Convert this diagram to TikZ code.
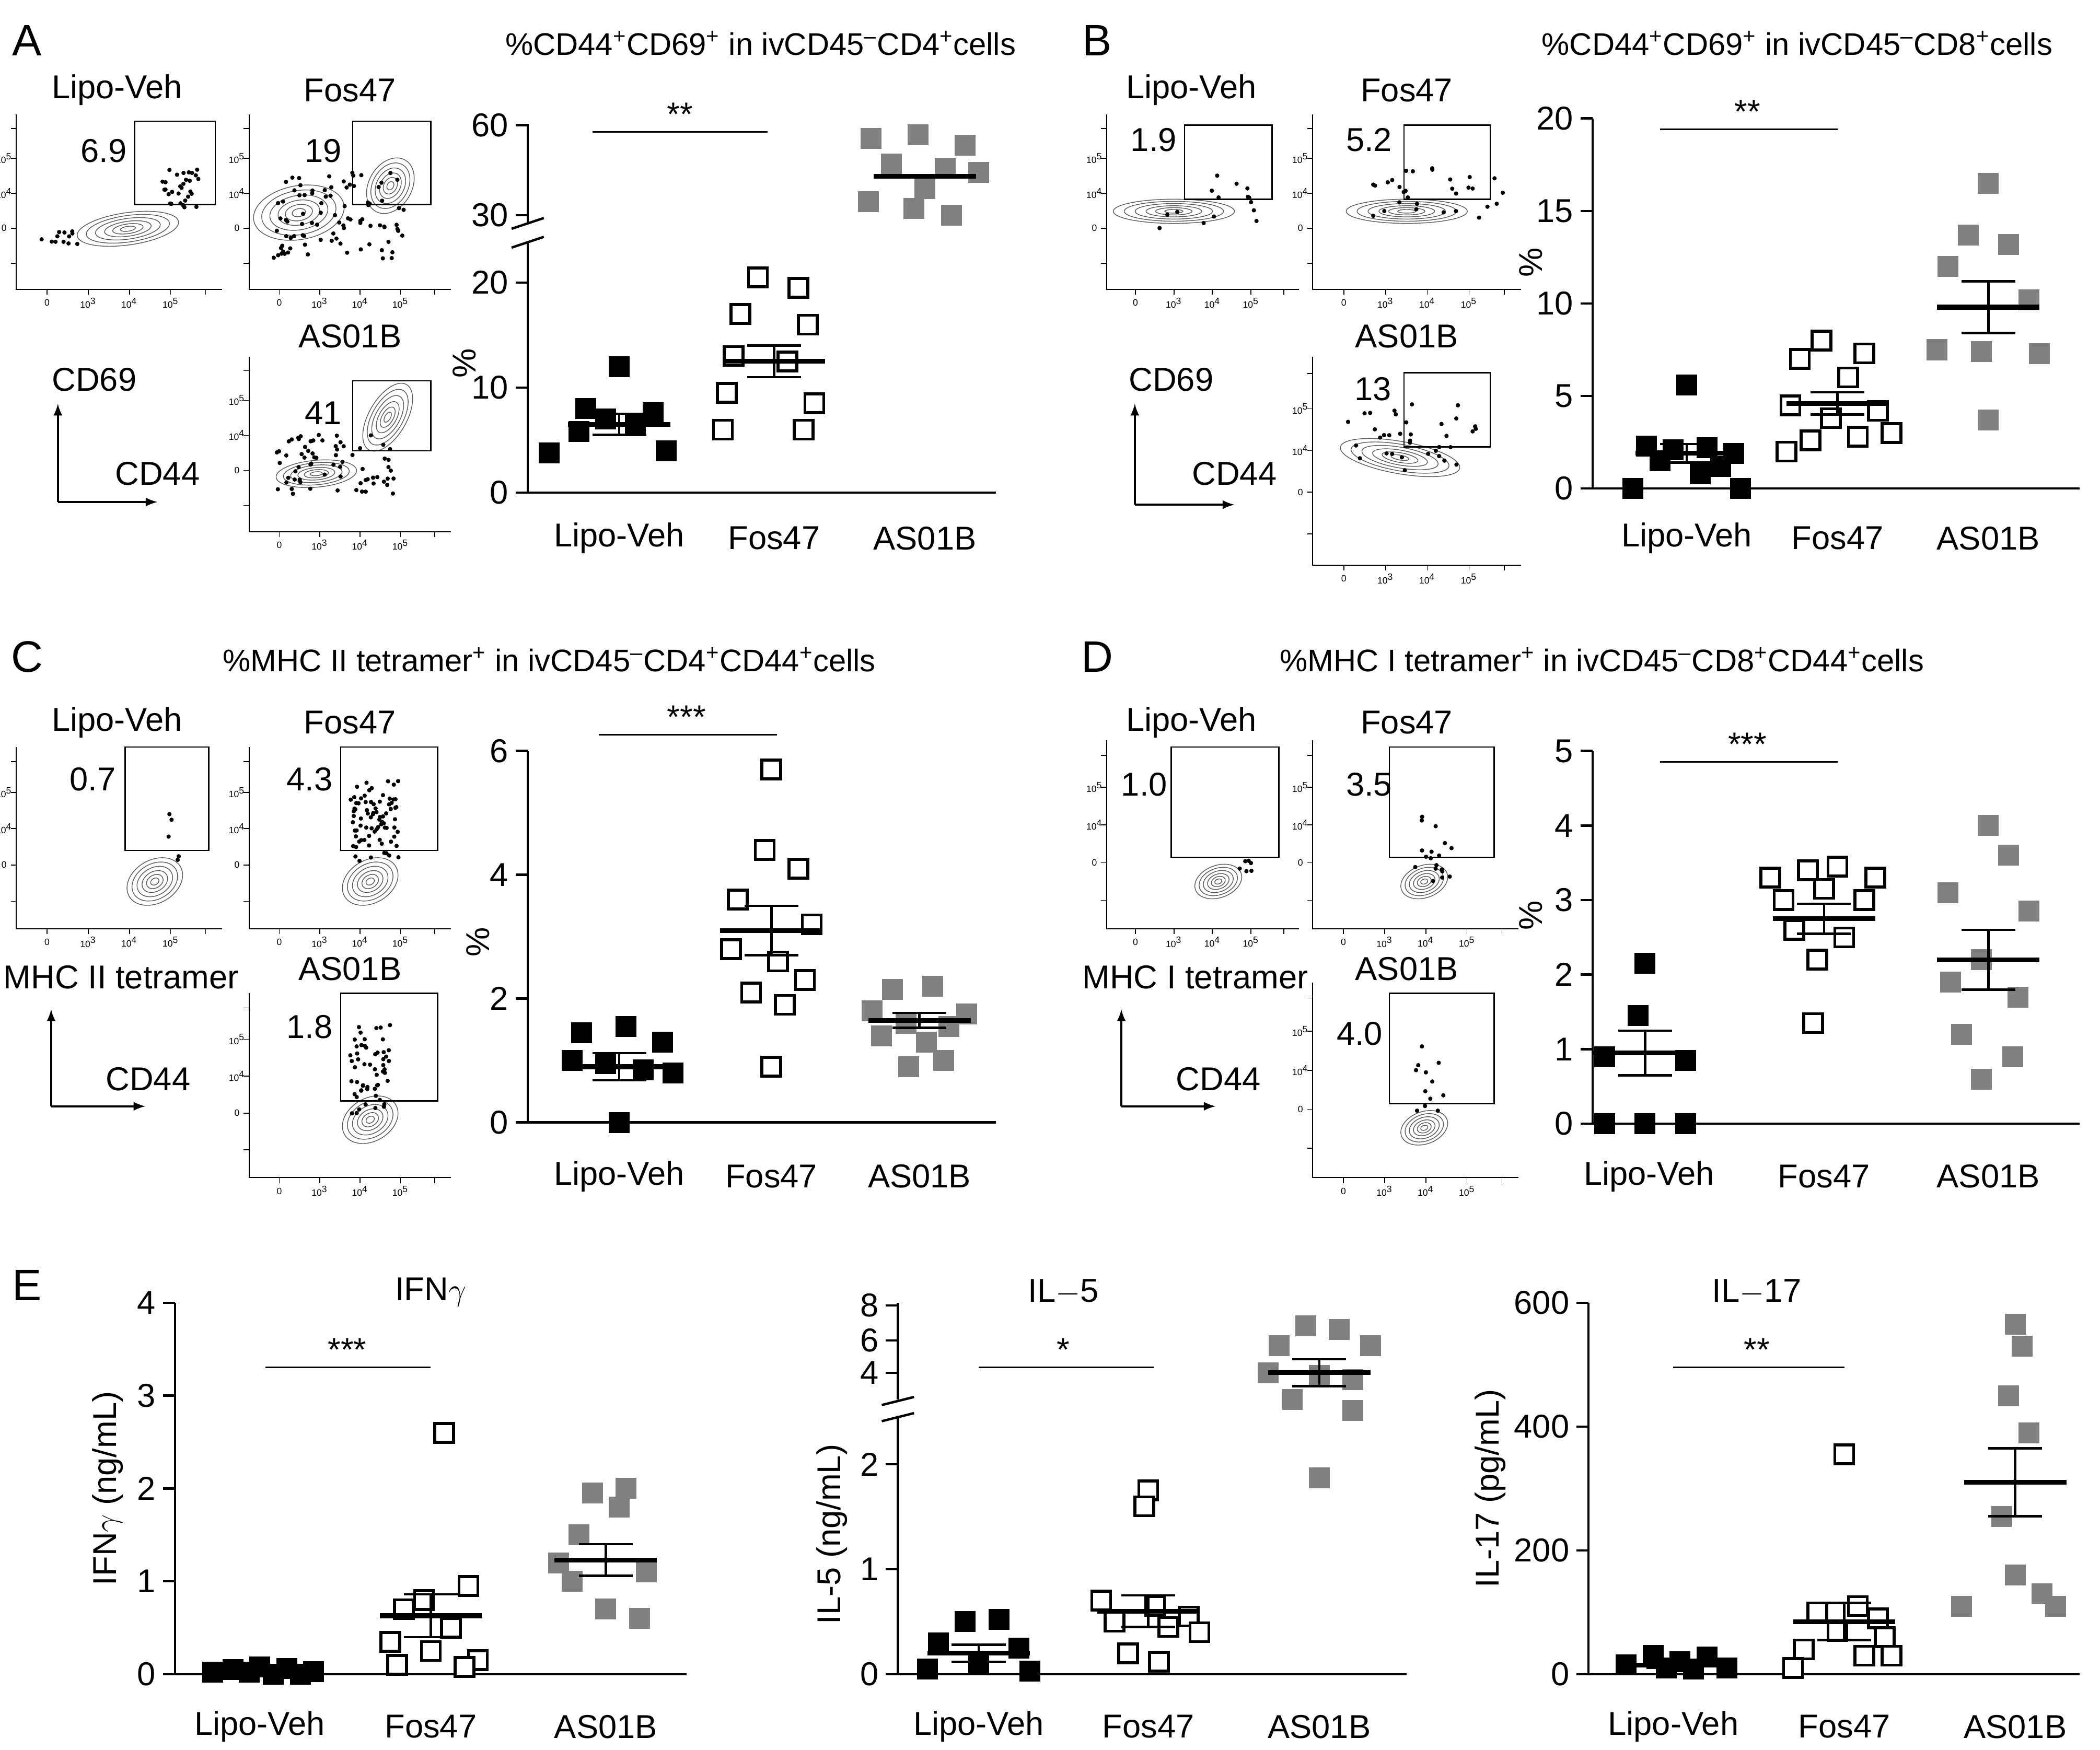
\documentclass[tikz,border=0pt]{standalone}
\usepackage{fontspec}
\setmainfont{Liberation Sans}
\begin{document}
\begin{tikzpicture}[x=0.02576cm,y=-0.02576cm,
  lbl/.style={font=\fontsize{18}{20}\selectfont, inner sep=0},
  ttl/.style={font=\fontsize{17}{20}\selectfont, inner sep=0},
  panel/.style={font=\fontsize{24}{26}\selectfont, inner sep=0},
  tiny/.style={font=\fontsize{5}{6}\selectfont, inner sep=0},
  fsq/.style={rectangle, fill=black, minimum size=0.4cm, inner sep=0},
  osq/.style={rectangle, draw=black, fill=white, line width=1.6pt, minimum size=0.36cm, inner sep=0},
  gsq/.style={rectangle, fill=gray, minimum size=0.4cm, inner sep=0},
  ax/.style={line width=1.3pt},
  gate/.style={line width=0.7pt},
  cont/.style={gray!70!black, line width=0.4pt}]
\useasboundingbox (0,0) rectangle (1560,1300);
\pgfmathsetseed{7}
\newcommand\flowplot[4]{%
  \draw[line width=0.6pt] (#1,#2) -- (#1,#4) -- (#3,#4);
  \foreach \f in {0.15,0.35,0.55,0.75,0.92}{\draw[line width=0.5pt] ({#1+\f*(#3-#1)},#4) -- ++(0,4);
     \draw[line width=0.5pt] (#1,{#4-\f*(#4-#2)}) -- ++(-4,0);}
  \node[tiny] at ({#1+0.15*(#3-#1)},{#4+10}) {0};
  \node[tiny] at ({#1+0.35*(#3-#1)},{#4+10}) {10\textsuperscript{3}};
  \node[tiny] at ({#1+0.55*(#3-#1)},{#4+10}) {10\textsuperscript{4}};
  \node[tiny] at ({#1+0.75*(#3-#1)},{#4+10}) {10\textsuperscript{5}};
  \node[tiny] at ({#1-9},{#4-0.35*(#4-#2)}) {0};
  \node[tiny] at ({#1-9},{#4-0.55*(#4-#2)}) {10\textsuperscript{4}};
  \node[tiny] at ({#1-9},{#4-0.75*(#4-#2)}) {10\textsuperscript{5}};}
\newcommand\blob[5]{%
  \foreach \s in {1,0.82,0.64,0.46,0.3,0.15}{\draw[cont, rotate around={#5:(#1,#2)}] (#1,#2) ellipse [x radius={#3*\s}, y radius={#4*\s}];}}
\newcommand\scat[5]{%
  \foreach \i in {1,...,#5}{\fill ({#1+rand*#3},{#2+rand*#4}) circle (1.6);}}
\newcommand\grp[5]{\foreach \dx/\v in {#5} \node[#1] at ({#2+\dx},{#3-#4*\v}) {};}
\newcommand\msem[5]{% cx y0 k mean sem
  \draw[line width=1.3pt] ({#1},{#2-#3*(#4+#5)}) -- ({#1},{#2-#3*(#4-#5)});
  \draw[line width=1.3pt] ({#1-20},{#2-#3*(#4+#5)}) -- ({#1+20},{#2-#3*(#4+#5)});
  \draw[line width=1.3pt] ({#1-20},{#2-#3*(#4-#5)}) -- ({#1+20},{#2-#3*(#4-#5)});
  \draw[line width=2.6pt] ({#1-38},{#2-#3*#4}) -- ({#1+38},{#2-#3*#4});}
\newcommand\yticks[4]{% x y0 k list
  \foreach \v in {#4}{\draw[ax] (#1,{#2-#3*\v}) -- ++(-9,0); \node[lbl,anchor=east] at ({#1-14},{#2-#3*\v}) {\v};}}
\newcommand\cats[4]{% y, x1,x2,x3
  \node[lbl] at (#2,#1) {Lipo-Veh}; \node[lbl] at (#3,#1) {Fos47}; \node[lbl] at (#4,#1) {AS01B};}

% ================= Panel A
\node[panel] (pA) at (20,30) {A};
\node[ttl] (tA) at (565,32) {\%CD44\textsuperscript{+}CD69\textsuperscript{+} in ivCD45\textsuperscript{--}CD4\textsuperscript{+}cells};
\node[lbl] at (87,67) {Lipo-Veh}; \node[lbl] at (260,67) {Fos47}; \node[lbl] at (260,250) {AS01B};
\flowplot{12}{85}{165}{215}
\blob{95}{170}{38}{12}{8}\scat{135}{140}{15}{14}{30}\scat{45}{176}{15}{6}{12}
\draw[gate] (100,90) rectangle (160,152); \node[lbl] at (77,112) {6.9};
\flowplot{185}{85}{335}{215}
\blob{222}{158}{34}{20}{10}\blob{290}{138}{22}{16}{60}\scat{250}{160}{50}{32}{90}
\draw[gate] (262,90) rectangle (320,152); \node[lbl] at (240,112) {19};
\flowplot{185}{265}{335}{395}
\blob{288}{310}{28}{14}{60}\blob{235}{352}{30}{10}{5}\scat{250}{345}{45}{22}{70}
\draw[gate] (262,283) rectangle (320,335); \node[lbl] at (240,307) {41};
\coordinate (aO) at (43,373); \coordinate (aU) at (43,300); \coordinate (aR) at (117,373);
\draw[line width=1.2pt,-latex] (aO) -- (aU); \draw[line width=1.2pt,-latex] (aO) -- (aR);
\node[lbl] at (70,282) {CD69}; \node[lbl] at (117,352) {CD44};
% scatter A
\draw[ax] (392,92) -- (392,166); \draw[ax] (392,180) -- (392,366) -- (740,366);
\draw[ax] (380,170) -- (404,162); \draw[ax] (380,184) -- (404,176);
\yticks{392}{366}{7.8}{0,10,20}
\draw[ax] (392,160) -- ++(-9,0); \node[lbl,anchor=east] at (378,160) {30};
\draw[ax] (392,93) -- ++(-9,0); \node[lbl,anchor=east] at (378,93) {60};
\node[lbl,rotate=90] at (345,270) {\%};
\cats{400}{460}{575}{687}
\draw[line width=0.8pt] (440,98) -- (570,98); \node[lbl] at (505,85) {**};
\grp{fsq}{460}{366}{7.8}{0/12,-25/8,25/7.6,-10/7,12/6.5,-30/5.8,35/4,-52/3.8}
\msem{460}{366}{7.8}{6.5}{1}
\grp{osq}{575}{366}{7.8}{-12/20.5,18/19.5,-25/17,25/16,-30/13,10/12.5,-35/9.5,30/8.5,-38/6,22/6}
\msem{575}{366}{7.8}{12.5}{1.5}
\foreach \dx/\py in {-40/103,-5/100,30/108,-25/122,15/125,40/128,-42/150,-8/155,20/160,0/140}{\node[gsq] at (687+\dx,\py) {};}
\draw[line width=2.6pt] (649,131) -- (725,131);

% ================= Panel B
\node[panel] (pB) at (815,30) {B};
\node[ttl] (tB) at (1335,32) {\%CD44\textsuperscript{+}CD69\textsuperscript{+} in ivCD45\textsuperscript{--}CD8\textsuperscript{+}cells};
\node[lbl] at (885,67) {Lipo-Veh}; \node[lbl] at (1045,67) {Fos47}; \node[lbl] at (1045,250) {AS01B};
\flowplot{822}{85}{965}{215}
\blob{872}{157}{45}{9}{0}\scat{900}{150}{45}{20}{15}
\draw[gate] (880,93) rectangle (945,148); \node[lbl] at (857,104) {1.9};
\flowplot{975}{85}{1130}{215}
\blob{1045}{157}{45}{9}{0}\scat{1070}{145}{50}{20}{30}
\draw[gate] (1043,93) rectangle (1107,148); \node[lbl] at (1017,104) {5.2};
\flowplot{975}{265}{1130}{420}
\blob{1040}{340}{45}{12}{-10}\scat{1050}{325}{50}{25}{35}
\draw[gate] (1043,277) rectangle (1107,332); \node[lbl] at (1020,289) {13};
\coordinate (bO) at (843,375); \coordinate (bU) at (843,300); \coordinate (bR) at (917,375);
\draw[line width=1.2pt,-latex] (bO) -- (bU); \draw[line width=1.2pt,-latex] (bO) -- (bR);
\node[lbl] at (870,282) {CD69}; \node[lbl] at (917,352) {CD44};
\draw[ax] (1183,88) -- (1183,363) -- (1545,363);
\yticks{1183}{363}{13.75}{0,5,10,15,20}
\node[lbl,rotate=90] at (1137,195) {\%};
\cats{400}{1253}{1365}{1477}
\draw[line width=0.8pt] (1233,96) -- (1365,96); \node[lbl] at (1298,83) {**};
\grp{fsq}{1253}{363}{13.75}{0/5.6,-30/2.3,-10/2.1,15/2.2,35/1.9,-20/1.5,25/1.2,-40/0,10/0.8,40/0}
\msem{1253}{363}{13.75}{1.9}{0.5}
\grp{osq}{1365}{363}{13.75}{-12/8,20/7.3,-28/7.0,8/6,-35/4.5,30/4.2,-5/3.8,40/3.0,-20/2.6,15/2.8,-38/2.0}
\msem{1365}{363}{13.75}{4.6}{0.6}
\grp{gsq}{1477}{363}{13.75}{0/16.5,-15/13.7,15/13.2,-30/12,30/10.2,-38/7.5,-5/7.4,38/7.3,0/3.7}
\msem{1477}{363}{13.75}{9.8}{1.4}

% ================= Panel C
\node[panel] (pC) at (20,488) {C};
\node[ttl] (tC) at (408,490) {\%MHC II tetramer\textsuperscript{+} in ivCD45\textsuperscript{--}CD4\textsuperscript{+}CD44\textsuperscript{+}cells};
\node[lbl] at (87,537) {Lipo-Veh}; \node[lbl] at (260,537) {Fos47}; \node[lbl] at (260,720) {AS01B};
\flowplot{12}{555}{165}{690}
\blob{115}{655}{22}{16}{30}\scat{128}{625}{6}{25}{5}
\draw[gate] (93,555) rectangle (155,632); \node[lbl] at (69,579) {0.7};
\flowplot{185}{555}{335}{690}
\blob{275}{655}{22}{16}{30}\scat{278}{610}{18}{30}{80}
\draw[gate] (253,555) rectangle (325,632); \node[lbl] at (230,579) {4.3};
\flowplot{185}{738}{335}{875}
\blob{275}{832}{22}{16}{30}\scat{275}{795}{15}{35}{55}
\draw[gate] (253,738) rectangle (325,818); \node[lbl] at (230,763) {1.8};
\coordinate (cO) at (38,822); \coordinate (cU) at (38,750); \coordinate (cR) at (108,822);
\draw[line width=1.2pt,-latex] (cO) -- (cU); \draw[line width=1.2pt,-latex] (cO) -- (cR);
\node[lbl] at (90,726) {MHC II tetramer}; \node[lbl] at (110,802) {CD44};
\draw[ax] (392,558) -- (392,834) -- (740,834);
\yticks{392}{834}{46}{0,2,4,6}
\node[lbl,rotate=90] at (355,700) {\%};
\cats{874}{460}{573}{683}
\draw[line width=0.8pt] (445,546) -- (577,546); \node[lbl] at (510,533) {***};
\grp{fsq}{460}{834}{46}{-28/1.45,5/1.55,32/1.3,-35/1.0,-10/0.95,18/0.85,40/0.8,0/0}
\msem{460}{834}{46}{0.9}{0.22}
\grp{osq}{573}{834}{46}{0/5.7,-5/4.4,20/4.1,-25/3.6,30/3.2,-30/2.8,5/2.6,-15/2.1,25/2.3,10/1.9,-0/0.9}
\msem{573}{834}{46}{3.1}{0.4}
\grp{gsq}{683}{834}{46}{-20/2.15,10/2.2,-35/1.8,35/1.75,-10/1.6,22/1.55,-28/1.4,5/1.3,-8/0.9,18/1.0}
\msem{683}{834}{46}{1.65}{0.12}

% ================= Panel D
\node[panel] (pD) at (815,488) {D};
\node[ttl] (tD) at (1190,490) {\%MHC I tetramer\textsuperscript{+} in ivCD45\textsuperscript{--}CD8\textsuperscript{+}CD44\textsuperscript{+}cells};
\node[lbl] at (885,537) {Lipo-Veh}; \node[lbl] at (1045,537) {Fos47}; \node[lbl] at (1045,720) {AS01B};
\flowplot{822}{550}{965}{690}
\blob{905}{655}{18}{12}{20}\scat{928}{645}{8}{6}{6}
\draw[gate] (870,555) rectangle (950,637); \node[lbl] at (850,583) {1.0};
\flowplot{975}{550}{1128}{690}
\blob{1058}{655}{18}{12}{20}\scat{1065}{630}{15}{30}{18}
\draw[gate] (1032,555) rectangle (1110,637); \node[lbl] at (1017,583) {3.5};
\flowplot{975}{730}{1128}{875}
\blob{1058}{838}{18}{12}{20}\scat{1062}{805}{12}{30}{12}
\draw[gate] (1032,738) rectangle (1110,820); \node[lbl] at (1010,768) {4.0};
\coordinate (dO) at (833,822); \coordinate (dU) at (833,750); \coordinate (dR) at (903,822);
\draw[line width=1.2pt,-latex] (dO) -- (dU); \draw[line width=1.2pt,-latex] (dO) -- (dR);
\node[lbl] at (888,726) {MHC I tetramer}; \node[lbl] at (905,802) {CD44};
\draw[ax] (1183,558) -- (1183,835) -- (1545,835);
\yticks{1183}{835}{55.4}{0,1,2,3,4,5}
\node[lbl,rotate=90] at (1137,680) {\%};
\cats{874}{1225}{1355}{1477}
\draw[line width=0.8pt] (1233,566) -- (1365,566); \node[lbl] at (1298,553) {***};
\grp{fsq}{1222}{835}{55.4}{0/2.15,-5/1.45,-30/0.9,30/0.85,-30/0,0/0,30/0}
\msem{1222}{835}{55.4}{0.95}{0.3}
\grp{osq}{1355}{835}{55.4}{-40/3.3,-12/3.4,10/3.45,38/3.3,-30/3.0,0/3.15,30/3.0,-22/2.6,15/2.5,-5/2.2,-8/1.35}
\msem{1355}{835}{55.4}{2.75}{0.2}
\grp{gsq}{1477}{835}{55.4}{0/4.0,15/3.6,-30/3.1,30/2.85,-5/2.2,-28/1.9,22/1.7,-20/1.2,18/0.9,-5/0.6}
\msem{1477}{835}{55.4}{2.2}{0.4}

% ================= Panel E
\node[panel] (pE) at (20,955) {E};
\node[lbl] at (320,960) {IFN$\gamma$};
\draw[ax] (130,968) -- (130,1244) -- (510,1244);
\yticks{130}{1244}{69}{0,1,2,3,4}
\node[lbl,rotate=90] at (80,1106) {IFN$\gamma$ (ng/mL)};
\cats{1283}{193}{320}{450}
\draw[line width=0.8pt] (197,1016) -- (320,1016); \node[lbl] at (258,1003) {***};
\grp{fsq}{193}{1244}{69}{-20/0.05,0/0.08,20/0.06,40/0.03,-35/0.02,10/0.0,30/0.0,-8/0.02}
\msem{193}{1244}{69}{0.03}{0.01}
\grp{osq}{320}{1244}{69}{10/2.6,28/0.95,-5/0.8,-20/0.7,15/0.5,-30/0.35,0/0.25,35/0.15,-25/0.1,25/0.08}
\msem{320}{1244}{69}{0.63}{0.23}
\grp{gsq}{450}{1244}{69}{15/2.0,-10/1.95,10/1.8,-20/1.5,-35/1.2,30/1.1,-25/1.0,0/0.7,25/0.6}
\msem{450}{1244}{69}{1.23}{0.17}
\node[lbl] at (790,960) {IL$-$5};
\draw[ax] (667,968) -- (667,1040); \draw[ax] (667,1052) -- (667,1244) -- (1045,1244);
\draw[ax] (655,1044) -- (679,1038); \draw[ax] (655,1056) -- (679,1050);
\yticks{667}{1244}{78}{0,1,2}
\foreach \v/\py in {4/1020,6/996,8/970}{\draw[ax] (667,\py) -- ++(-9,0); \node[lbl,anchor=east] at (653,\py) {\v};}
\node[lbl,rotate=90] at (618,1140) {IL-5 (ng/mL)};
\cats{1283}{727}{853}{980}
\draw[line width=0.8pt] (727,1016) -- (857,1016); \node[lbl] at (790,1003) {*};
\grp{fsq}{727}{1244}{78}{-10/0.5,15/0.52,-30/0.3,30/0.25,-38/0.05,0/0.1,38/0.03}
\msem{727}{1244}{78}{0.2}{0.08}
\grp{osq}{853}{1244}{78}{0/1.75,-3/1.6,-35/0.7,5/0.65,30/0.55,-25/0.5,15/0.45,38/0.4,-15/0.2,8/0.12}
\msem{853}{1244}{78}{0.6}{0.15}
\foreach \dx/\py in {-10/985,15/988,-30/1000,38/1000,-38/1020,0/1022,25/1025,-20/1040,25/1048,0/1098}{\node[gsq] at (980+\dx,\py) {};}
\draw[line width=1.3pt] (980,1010) -- (980,1030); \draw[line width=1.3pt] (960,1010) -- (1000,1010); \draw[line width=1.3pt] (960,1030) -- (1000,1030);
\draw[line width=2.6pt] (942,1020) -- (1018,1020);
\node[lbl] at (1305,960) {IL$-$17};
\draw[ax] (1180,968) -- (1180,1244) -- (1545,1244);
\yticks{1180}{1244}{0.46}{0,200,400,600}
\node[lbl,rotate=90] at (1107,1106) {IL-17 (pg/mL)};
\cats{1283}{1243}{1370}{1497}
\draw[line width=0.8pt] (1243,1016) -- (1370,1016); \node[lbl] at (1305,1003) {**};
\grp{fsq}{1243}{1244}{0.46}{-35/15,-15/30,5/20,25/28,40/10,-5/10,15/8}
\msem{1243}{1244}{0.46}{15}{5}
\grp{osq}{1370}{1244}{0.46}{0/355,-20/100,10/110,25/90,-5/70,30/60,-30/40,15/30,35/30,-38/10}
\msem{1370}{1244}{0.46}{85}{30}
\grp{gsq}{1497}{1244}{0.46}{0/565,5/530,-5/450,10/390,-10/255,-40/110,0/160,20/130,30/110}
\msem{1497}{1244}{0.46}{310}{55}
\end{tikzpicture}
\end{document}
